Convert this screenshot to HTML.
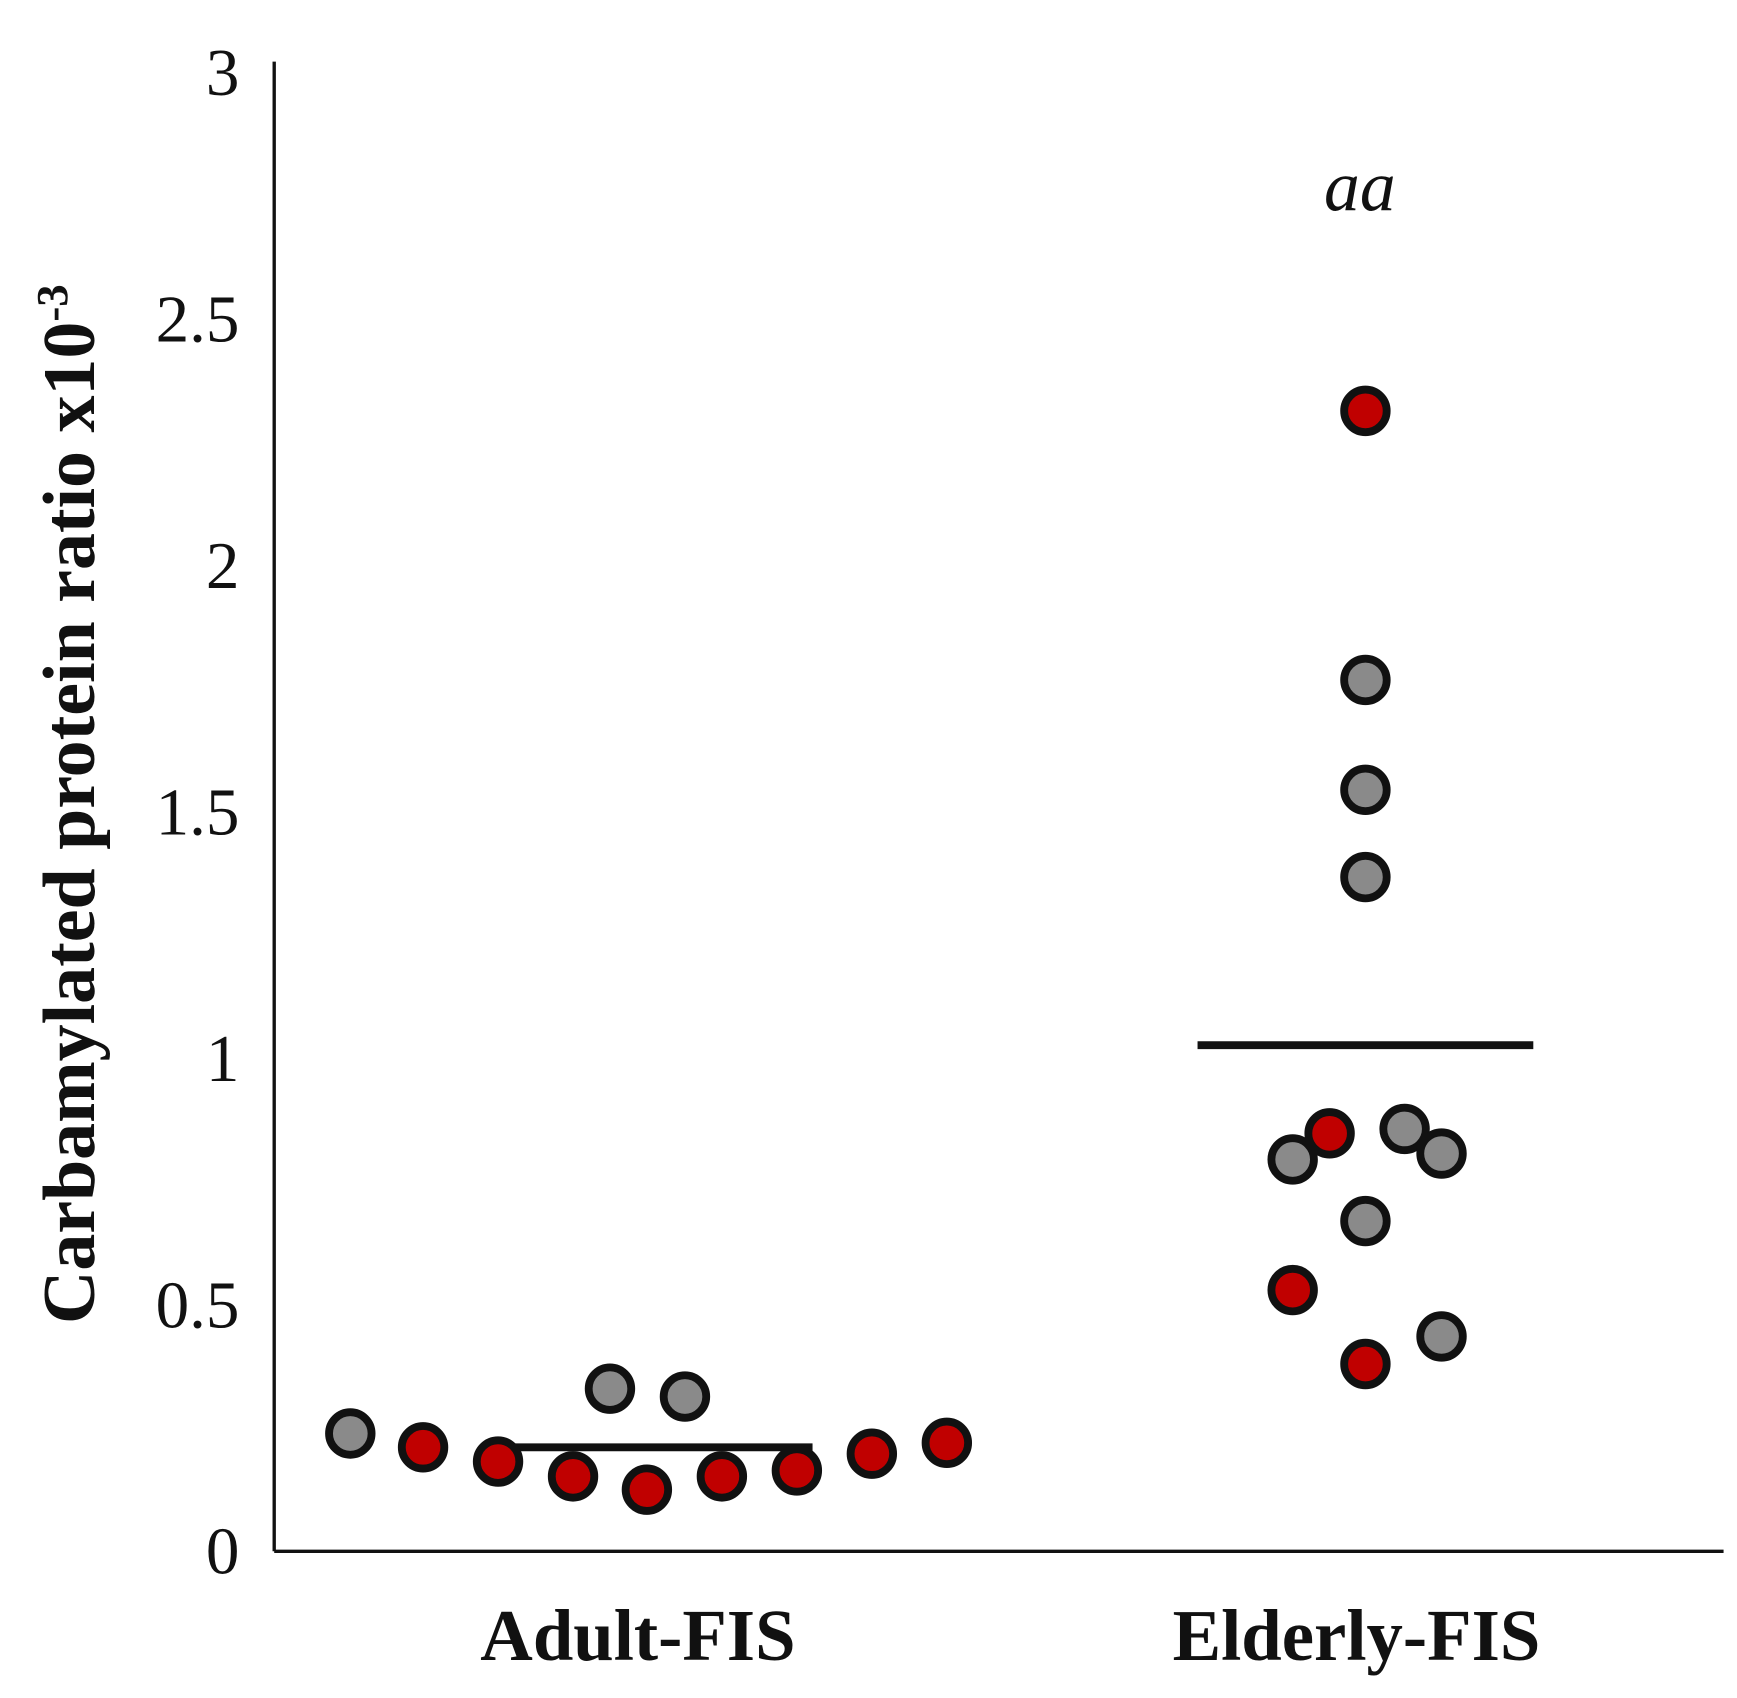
<!DOCTYPE html>
<html><head><meta charset="utf-8"><style>
html,body{margin:0;padding:0;background:#fff;}
svg{display:block;}
text{font-family:"Liberation Serif",serif;fill:#111;}
</style></head><body>
<svg id="chart" width="1737" height="1698" viewBox="0 0 1552 1516" preserveAspectRatio="none">
<g id="axes"></g>
<g id="marks"></g>
</svg>
<script>
const categories = ["Adult-FIS", "Elderly-FIS"];
const yTicks = [0, 0.5, 1, 1.5, 2, 2.5, 3];
const yTickLabels = ["0", "0.5", "1", "1.5", "2", "2.5", "3"];
const adultValues = [0.239, 0.211, 0.182, 0.152, 0.125, 0.152, 0.164, 0.198, 0.220, 0.330, 0.314];
const adultColors = ["gray","red","red","red","red","red","red","red","red","gray","gray"];
const adultMean = 0.211;
const elderlyValues = [2.314, 1.768, 1.545, 1.368, 0.795, 0.848, 0.857, 0.807, 0.670, 0.530, 0.436, 0.380];
const elderlyColors = ["red","gray","gray","gray","gray","red","gray","gray","gray","red","gray","red"];
const elderlyMean = 1.027;
const annotations = ["", "aa"];
// layout (jitter offsets in px)
const adultJitter = [-265,-200,-133,-66,0,67,134,201,268,-33,34];
const elderlyJitter = [0,0,0,0,-65,-32,35,68,0,-65,68,0];

const NS="http://www.w3.org/2000/svg";
const x0=245, x1=1540, yBase=1385, pxPerUnit=440;
const catX=[578,1220];
const y=v=>yBase-v*pxPerUnit;
function mk(tag,attrs,parent){const e=document.createElementNS(NS,tag);for(const k in attrs)e.setAttribute(k,attrs[k]);parent.appendChild(e);return e;}
const axes=document.getElementById('axes'), marks=document.getElementById('marks');
let e=mk('line',{x1:x0,y1:55,x2:x0,y2:yBase,stroke:'#111','stroke-width':3},axes);


e=mk('line',{x1:x0,y1:yBase,x2:x1,y2:yBase,stroke:'#111','stroke-width':3},axes);


yTicks.forEach((t,i)=>{const tx=mk('text',{x:214,y:y(t)+20,'text-anchor':'end','font-size':60},axes);tx.textContent=yTickLabels[i];

});
categories.forEach((c,i)=>{const tx=mk('text',{x:catX[i]-8,y:1482,'text-anchor':'middle','font-size':65,'font-weight':'bold'},axes);tx.textContent=c;


if(annotations[i]){const a=mk('text',{x:catX[i]-5,y:188,'text-anchor':'middle','font-size':64,'font-style':'italic'},axes);a.textContent=annotations[i];

}});
const yl=mk('text',{x:0,y:0,'text-anchor':'middle','font-size':66,'font-weight':'bold',transform:'translate(84,718) rotate(-90)'},axes);


yl.innerHTML='Carbamylated protein ratio x10<tspan dy="-24" font-size="40">-3</tspan>';
function drawGroup(vals,cols,jit,cx,mean,half,name){
  const m=mk('line',{x1:cx-half,y1:y(mean),x2:cx+half,y2:y(mean),stroke:'#111','stroke-width':7},marks);
  
  
  vals.forEach((v,i)=>{const c=mk('circle',{cx:cx+jit[i],cy:y(v),r:19,fill:cols[i]==='red'?'#c00000':'#8a8a8a',stroke:'#111','stroke-width':7},marks);
  
  });
}
drawGroup(adultValues,adultColors,adultJitter,catX[0],adultMean,148,'adult');
drawGroup(elderlyValues,elderlyColors,elderlyJitter,catX[1],elderlyMean,150,'elderly');
</script>
</body></html>
